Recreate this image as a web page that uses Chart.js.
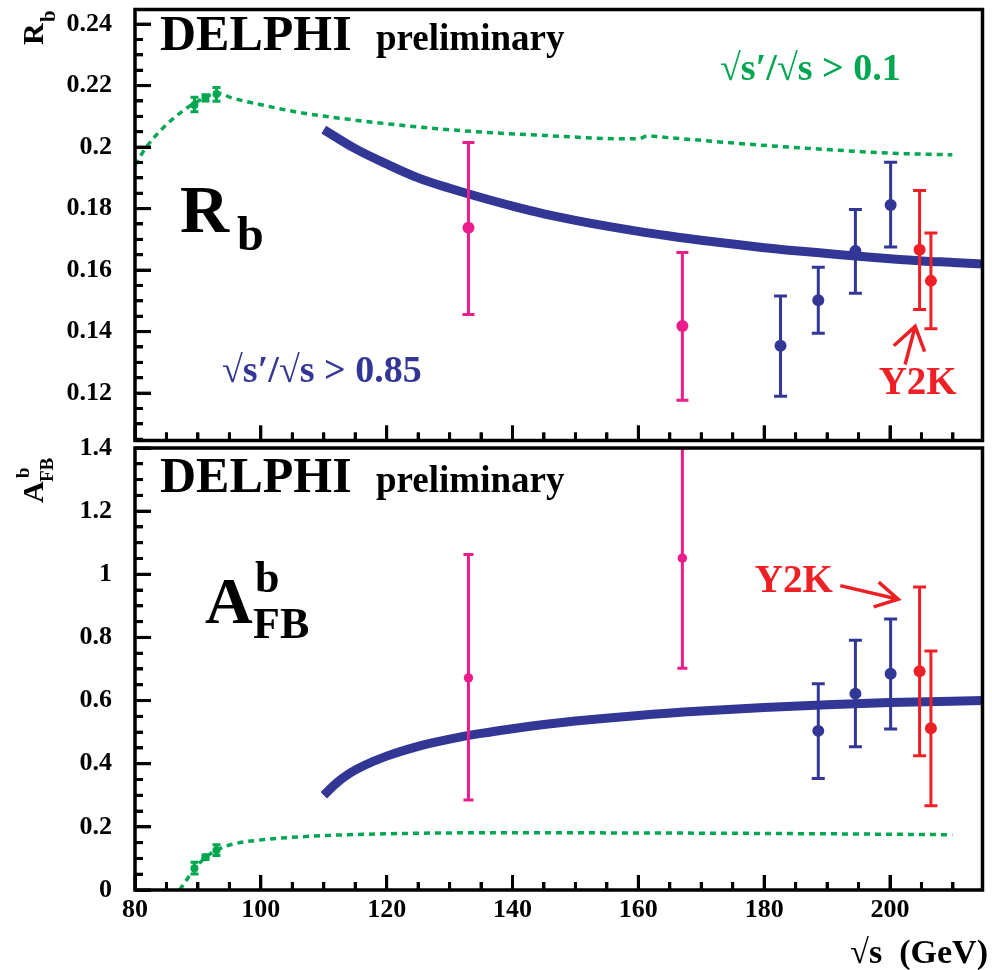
<!DOCTYPE html>
<html>
<head>
<meta charset="utf-8">
<script src="https://cdn.jsdelivr.net/npm/chart.js@4.4.1/dist/chart.umd.min.js"></script>
<style>
  body { margin: 0; background: #fff; }
  #wrap { position: relative; width: 992px; height: 970px; }
  #rbChart { position: absolute; left: 0; top: 0; }
  #afbChart { position: absolute; left: 0; top: 420px; }
</style>
</head>
<body>
<div id="wrap">
  <canvas id="rbChart" width="992" height="450"></canvas>
  <canvas id="afbChart" width="992" height="550"></canvas>
</div>
<script>
// ---- data (sqrt(s) in GeV) ----
const energyTicks = [80, 100, 120, 140, 160, 180, 200];
const rbTicks = [0.12, 0.14, 0.16, 0.18, 0.2, 0.22, 0.24];
const afbTicks = [0, 0.2, 0.4, 0.6, 0.8, 1, 1.2, 1.4];

// LEP1 points (green)
const lepX = [89.45, 91.2, 92.95];
const lepRb = [0.2137, 0.2160, 0.2173];
const lepRbLo = [0.2115, 0.2150, 0.2149];
const lepRbHi = [0.2162, 0.2170, 0.2194];
const lepAfb = [0.069, 0.104, 0.126];
const lepAfbLo = [0.051, 0.097, 0.109];
const lepAfbHi = [0.088, 0.111, 0.143];

// 133 / 167 GeV (pink)
const pinkX = [133, 167];
const pinkRb = [0.1738, 0.1418];
const pinkRbLo = [0.1456, 0.1177];
const pinkRbHi = [0.2015, 0.1657];
const pinkAfb = [0.672, 1.051];
const pinkAfbLo = [0.285, 0.702];
const pinkAfbHi = [1.063, 1.40];

// 183-200 GeV (blue)
const blueRbX = [182.6, 188.6, 194.5, 200.1];
const blueRb = [0.1354, 0.1502, 0.1662, 0.1812];
const blueRbLo = [0.1190, 0.1395, 0.1525, 0.1675];
const blueRbHi = [0.1516, 0.1609, 0.1797, 0.1951];
const blueAfbX = [188.6, 194.5, 200.1];
const blueAfb = [0.504, 0.622, 0.685];
const blueAfbLo = [0.353, 0.454, 0.510];
const blueAfbHi = [0.653, 0.791, 0.858];

// Y2K (red)
const y2kX = [204.7, 206.5];
const y2kRb = [0.1666, 0.1565];
const y2kRbLo = [0.1472, 0.1409];
const y2kRbHi = [0.1859, 0.1721];
const y2kAfb = [0.693, 0.512];
const y2kAfbLo = [0.425, 0.267];
const y2kAfbHi = [0.960, 0.757];

// theory, sqrt(s')/sqrt(s) > 0.85 (blue band)
const rbHighX = [110, 115, 120, 125, 130, 135, 140, 145, 150, 155, 160, 165, 170, 175, 180, 185, 190, 195, 200, 205, 210, 214.7];
const rbHigh = [0.2057, 0.1995, 0.1945, 0.1900, 0.1866, 0.1836, 0.1808, 0.1783, 0.1762, 0.1743, 0.1726, 0.1711, 0.1697, 0.1685, 0.1673, 0.1663, 0.1654, 0.1645, 0.1637, 0.1630, 0.1625, 0.1620];
const afbHighX = [110, 112, 114, 116.5, 120, 125, 130, 135, 140, 145, 150, 160, 170, 180, 190, 200, 214.7];
const afbHigh = [0.300, 0.338, 0.368, 0.395, 0.424, 0.455, 0.478, 0.496, 0.511, 0.524, 0.535, 0.553, 0.567, 0.578, 0.587, 0.594, 0.600];

// theory, sqrt(s')/sqrt(s) > 0.1 (green dotted)
const rbLowX = [80, 81.8, 85, 88.1, 89.5, 91.2, 93, 95.4, 100, 106, 110.7, 120, 132.2, 145, 158, 160.2, 161.5, 163, 170, 177.7, 190, 200.5, 209.9];
const rbLow = [0.1942, 0.2, 0.2073, 0.2125, 0.2143, 0.2162, 0.2176, 0.2160, 0.2138, 0.2113, 0.2099, 0.2076, 0.2053, 0.2038, 0.2027, 0.2028, 0.2037, 0.2034, 0.2022, 0.2009, 0.1992, 0.1980, 0.1975];
const afbLowX = [87.1, 88.3, 89.5, 91.3, 92.9, 95.5, 100.7, 106, 110.7, 120, 132, 150, 170, 190, 209.9];
const afbLow = [0.0, 0.035, 0.069, 0.104, 0.126, 0.145, 0.160, 0.168, 0.173, 0.178, 0.181, 0.181, 0.180, 0.178, 0.175];

const X_MIN = 80, X_MAX = 214.7;
const RB_MIN = 0.10459, RB_MAX = 0.24475;
const AFB_MIN = 0, AFB_MAX = 1.4;

const GREEN = 'rgb(0,166,80)';
const BLUE = 'rgb(50,55,150)';
const PINK = 'rgb(236,28,140)';
const RED = 'rgb(237,32,38)';
const SERIF = '"Liberation Serif", "DejaVu Serif", serif';

function pts(xv, yv) { return xv.map((x, i) => ({x: x, y: yv[i]})); }

function markers(xv, yv, color, r) {
  return {type: 'line', xAxisID: 'x', yAxisID: 'y', data: pts(xv, yv), showLine: false,
    pointRadius: r, pointHoverRadius: r, pointBackgroundColor: color, pointBorderWidth: 0, order: 1};
}

// one little 2-point line per bar; the 'line' point style draws the caps
function errorBars(xv, lo, hi, color, cap) {
  return xv.map((x, i) => ({
    type: 'line', xAxisID: 'x', yAxisID: 'y', data: [{x: x, y: lo[i]}, {x: x, y: hi[i]}],
    borderColor: color, borderWidth: 3, pointStyle: 'line', pointRadius: cap, pointHoverRadius: cap,
    pointBorderWidth: 3, pointBorderColor: color, order: 2
  }));
}

function curve(xv, yv, color, width, dash) {
  return {type: 'line', xAxisID: 'x', yAxisID: 'y', data: pts(xv, yv), borderColor: color,
    borderWidth: width, borderDash: dash || [], borderCapStyle: 'butt', pointRadius: 0,
    cubicInterpolationMode: 'monotone', order: 3};
}

const fmt = v => String(Math.round(v * 100) / 100);

// tick positions between the labelled ones
function minorValues(min, max, step) {
  const out = [];
  for (let k = Math.ceil(min / step - 1e-6); k * step <= max + 1e-9; k++) {
    if (k % 4 !== 0) out.push(k * step);
  }
  return out;
}

// inward tick marks from the axes themselves (negative tickLength)
function tickGrid(len) {
  return {display: true, drawOnChartArea: false, drawTicks: true, tickLength: -len,
    tickWidth: 3, tickColor: '#000'};
}

function yAxis(min, max, ticks) {
  return {
    type: 'linear', position: 'left', min: min, max: max, weight: 1,
    afterBuildTicks: s => { s.ticks = ticks.map(v => ({value: v})); },
    afterFit: s => { s.width = 135; s.paddingTop = 0; s.paddingBottom = 0; },
    grid: tickGrid(16),
    border: {display: false},
    ticks: {padding: 39, autoSkip: false, color: '#000', callback: v => fmt(v),
      font: {family: SERIF, weight: 'bold', size: 26}}
  };
}

function yMinorAxis(min, max, step) {
  const vals = minorValues(min, max, step);
  return {
    type: 'linear', position: 'left', min: min, max: max, weight: 0,
    afterBuildTicks: s => { s.ticks = vals.map(v => ({value: v})); },
    afterFit: s => { s.width = 0; s.paddingTop = 0; s.paddingBottom = 0; },
    grid: tickGrid(8),
    border: {display: false},
    ticks: {display: false}
  };
}

function xAxis(showLabels) {
  return {
    type: 'linear', position: 'bottom', min: X_MIN, max: X_MAX, weight: 1,
    afterBuildTicks: s => { s.ticks = energyTicks.map(v => ({value: v})); },
    afterFit: s => { s.height = showLabels ? 80 : 0; s.paddingLeft = 0; s.paddingRight = 0; },
    grid: tickGrid(15),
    border: {display: false},
    ticks: {display: showLabels, padding: 20, autoSkip: false, maxRotation: 0, color: '#000',
      font: {family: SERIF, weight: 'bold', size: 26}}
  };
}

function xMinorAxis() {
  const vals = minorValues(X_MIN, X_MAX, 5);
  return {
    type: 'linear', position: 'bottom', min: X_MIN, max: X_MAX, weight: 0,
    afterBuildTicks: s => { s.ticks = vals.map(v => ({value: v})); },
    afterFit: s => { s.height = 0; s.paddingLeft = 0; s.paddingRight = 0; },
    grid: tickGrid(8),
    border: {display: false},
    ticks: {display: false}
  };
}

// box, tick marks again by hand, free text and arrows
function decorPlugin(yRange, yStep, items, arrows) {
  return {
    id: 'panelDecor',
    afterDraw(chart) {
      const ctx = chart.ctx;
      const area = chart.chartArea;
      const sx = chart.scales.x, sy = chart.scales.y;
      const toPx = p => [sx.getPixelForValue(p[0]), sy.getPixelForValue(p[1])];

      ctx.save();
      ctx.setLineDash([]);
      ctx.fillStyle = '#000';
      for (let k = Math.ceil(yRange[0] / yStep - 1e-6); k * yStep <= yRange[1] + 1e-9; k++) {
        const py = sy.getPixelForValue(k * yStep);
        ctx.fillRect(area.left, py - 1.5, k % 4 === 0 ? 16 : 8, 3);
      }
      for (let k = 16; k * 5 <= X_MAX; k++) {
        const px = sx.getPixelForValue(k * 5);
        const len = k % 4 === 0 ? 15 : 8;
        ctx.fillRect(px - 1.5, area.bottom - len, 3, len);
      }
      ctx.strokeStyle = '#000';
      ctx.lineWidth = 3.5;
      ctx.strokeRect(area.left, area.top, area.right - area.left, area.bottom - area.top);
      ctx.restore();

      items.forEach(it => {
        let x = it.x, y = it.y;
        if (it.data) { [x, y] = toPx([it.x, it.y]); }
        ctx.save();
        ctx.translate(x, y);
        if (it.rotate) ctx.rotate(it.rotate);
        ctx.font = 'bold ' + it.size + 'px ' + SERIF;
        ctx.fillStyle = it.color || '#000';
        ctx.textAlign = it.align || 'left';
        ctx.textBaseline = 'alphabetic';
        ctx.fillText(it.text, it.dx || 0, it.dy || 0);
        ctx.restore();
      });
      arrows.forEach(ar => {
        const [t, h, w1, w2] = ar.map(toPx);
        ctx.save();
        ctx.setLineDash([]);
        ctx.strokeStyle = RED;
        ctx.lineWidth = 3.5;
        ctx.beginPath();
        ctx.moveTo(t[0], t[1]); ctx.lineTo(h[0], h[1]);
        ctx.moveTo(w1[0], w1[1]); ctx.lineTo(h[0], h[1]); ctx.lineTo(w2[0], w2[1]);
        ctx.stroke();
        ctx.restore();
      });
    }
  };
}

const ROT = -Math.PI / 2;

// ---------- top panel: R_b (canvas at page y 0) ----------
new Chart(document.getElementById('rbChart'), {
  type: 'line',
  data: {
    datasets: [
      markers(lepX, lepRb, GREEN, 4),
      markers(pinkX, pinkRb, PINK, 6),
      markers(blueRbX, blueRb, BLUE, 6),
      markers(y2kX, y2kRb, RED, 6),
      ...errorBars(lepX, lepRbLo, lepRbHi, GREEN, 4),
      ...errorBars(pinkX, pinkRbLo, pinkRbHi, PINK, 6),
      ...errorBars(blueRbX, blueRbLo, blueRbHi, BLUE, 6.5),
      ...errorBars(y2kX, y2kRbLo, y2kRbHi, RED, 6.5),
      curve(rbHighX, rbHigh, BLUE, 9),
      curve(rbLowX, rbLow, GREEN, 3.5, [6, 5])
    ]
  },
  options: {
    responsive: false,
    animation: false,
    events: [],
    layout: {padding: {top: 5, right: 2, left: 0, bottom: 2}},
    plugins: {legend: {display: false}, tooltip: {enabled: false}},
    scales: {
      x: xAxis(false),
      y: yAxis(RB_MIN, RB_MAX, rbTicks),
      xMinor: xMinorAxis(),
      yMinor: yMinorAxis(RB_MIN, RB_MAX, 0.005)
    }
  },
  plugins: [
    decorPlugin([RB_MIN, RB_MAX], 0.005, [
      {text: 'DELPHI', x: 160, y: 50, size: 50},
      {text: 'preliminary', x: 376, y: 50, size: 37},
      {text: '√s′/√s > 0.1', x: 720, y: 80, size: 38, color: GREEN},
      {text: '√s′/√s > 0.85', x: 222, y: 382, size: 38, color: BLUE},
      {text: 'R', x: 180, y: 232, size: 68},
      {text: 'b', x: 237, y: 250, size: 48},
      {text: 'R', x: 43, y: 45, size: 30, rotate: ROT},
      {text: 'b', x: 43, y: 45, size: 21, rotate: ROT, dx: 23, dy: 12},
      {text: 'Y2K', x: 198.2, y: 0.1198, data: true, size: 39, color: RED}
    ], [
      [[202.4, 0.1293], [204.0, 0.1417], [200.6, 0.1354], [205.5, 0.1335]]
    ])
  ]
});

// ---------- bottom panel: A_FB^b (canvas at page y 420) ----------
new Chart(document.getElementById('afbChart'), {
  type: 'line',
  data: {
    datasets: [
      markers(lepX, lepAfb, GREEN, 4),
      markers(pinkX, pinkAfb, PINK, 4.7),
      markers(blueAfbX, blueAfb, BLUE, 6),
      markers(y2kX, y2kAfb, RED, 6),
      ...errorBars(lepX, lepAfbLo, lepAfbHi, GREEN, 4),
      ...errorBars(pinkX, pinkAfbLo, pinkAfbHi, PINK, 5),
      ...errorBars(blueAfbX, blueAfbLo, blueAfbHi, BLUE, 6.5),
      ...errorBars(y2kX, y2kAfbLo, y2kAfbHi, RED, 6.5),
      curve(afbHighX, afbHigh, BLUE, 9),
      curve(afbLowX, afbLow, GREEN, 3.5, [6, 5])
    ]
  },
  options: {
    responsive: false,
    animation: false,
    events: [],
    layout: {padding: {top: 28, right: 2, left: 0, bottom: 0}},
    plugins: {legend: {display: false}, tooltip: {enabled: false}},
    scales: {
      x: xAxis(true),
      y: yAxis(AFB_MIN, AFB_MAX, afbTicks),
      xMinor: xMinorAxis(),
      yMinor: yMinorAxis(AFB_MIN, AFB_MAX, 0.05)
    }
  },
  plugins: [
    decorPlugin([AFB_MIN, AFB_MAX], 0.05, [
      {text: 'DELPHI', x: 160, y: 72, size: 50},
      {text: 'preliminary', x: 376, y: 72, size: 37},
      {text: 'A', x: 205, y: 203, size: 66},
      {text: 'b', x: 255, y: 172, size: 44},
      {text: 'FB', x: 253, y: 218, size: 44},
      {text: 'A', x: 43, y: 83, size: 30, rotate: ROT},
      {text: 'FB', x: 43, y: 83, size: 19, rotate: ROT, dx: 21, dy: 10},
      {text: 'b', x: 43, y: 83, size: 19, rotate: ROT, dx: 25, dy: -14},
      {text: '√s  (GeV)', x: 988, y: 543, size: 34, align: 'right'},
      {text: 'Y2K', x: 178.5, y: 0.944, data: true, size: 39, color: RED}
    ], [
      [[192.1, 0.964], [201.3, 0.921], [198.2, 0.975], [197.4, 0.897]]
    ])
  ]
});
</script>
</body>
</html>
